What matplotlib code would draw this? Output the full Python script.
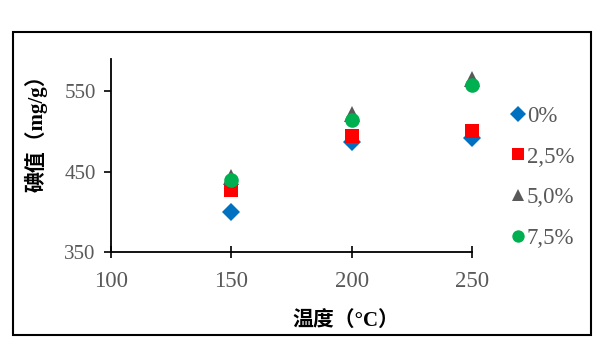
import matplotlib
matplotlib.use('Agg')
from matplotlib import pyplot as plt
from matplotlib.patches import Rectangle

temps = [150, 200, 250]
labels = ['0%', '2,5%', '5,0%', '7,5%']
iodine_0 = [400, 487, 492]
iodine_25 = [427, 494, 500]
iodine_50 = [443, 522, 565]
iodine_75 = [440, 514, 558]

series = [iodine_0, iodine_25, iodine_50, iodine_75]
markers = ['D', 's', '^', 'o']
sizes = [9, 10, 11, 10.5]
colors = ['#0070C0', '#FF0000', '#595959', '#00B050']

serif = ['Liberation Serif', 'Noto Sans CJK SC']
gray = '#595959'

fig = plt.figure(figsize=(6, 3.6), dpi=100)
ax = fig.add_axes([0.185, 0.30, 0.602, 0.536])

for vals, m, ms, c, lab in zip(series, markers, sizes, colors, labels):
    ax.plot(temps, vals, linestyle='none', marker=m, markersize=ms,
            color=c, markeredgewidth=0, label=lab, clip_on=False)

ax.set_xlim(100, 250)
ax.set_ylim(350, 590)
ax.set_xticks([100, 150, 200, 250])
ax.set_yticks([350, 450, 550])
ax.spines['top'].set_visible(False)
ax.spines['right'].set_visible(False)
for s in ['left', 'bottom']:
    ax.spines[s].set_linewidth(1.3)
ax.tick_params(axis='y', direction='out', length=5, width=1.2, pad=6)
ax.tick_params(axis='x', direction='inout', length=8, width=1.2, pad=10)
for t in ax.get_yticklabels():
    t.set_family(serif)
    t.set_fontsize(15)
    t.set_color(gray)
for t in ax.get_xticklabels():
    t.set_family(serif)
    t.set_fontsize(16.5)
    t.set_color(gray)

# legend: marker-only handles, stacked at the right of the plot
leg = ax.legend(loc='upper left', bbox_to_anchor=(0.815, 0.763),
                bbox_transform=fig.transFigure, frameon=False,
                handlelength=0.7, handletextpad=0.05, labelspacing=0.85,
                markerscale=0.85, prop={'family': serif, 'size': 16.5})
for t in leg.get_texts():
    t.set_color(gray)

fig.text(0.060, 0.645, '碘值（mg/g）', rotation=90, ha='center', va='center',
         fontsize=15, fontweight='bold', family=serif)
fig.text(0.577, 0.105, '温度（°C）', ha='center', va='center',
         fontsize=15, fontweight='bold', family=serif)

# outer frame around the whole chart
fig.patches.append(Rectangle((13 / 600, 1 - 335 / 360), 578 / 600, 303 / 360,
                             transform=fig.transFigure, fill=False,
                             edgecolor='black', linewidth=1.5))

fig.savefig('out.png')
